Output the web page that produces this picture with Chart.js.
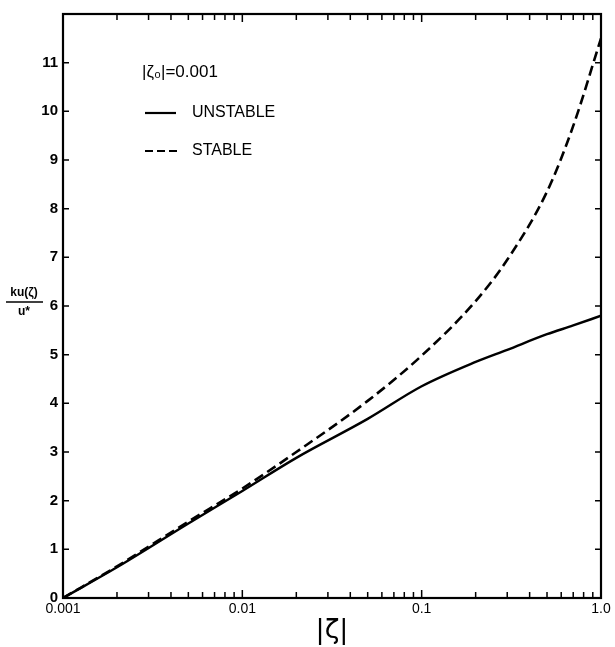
<!DOCTYPE html>
<html lang="en">
<head>
<meta charset="UTF-8">
<title>ku/u* vs |zeta|</title>
<script src="https://cdn.jsdelivr.net/npm/chart.js"></script>
<style>
  body { margin: 0; background: #fff; }
  #wrap { width: 615px; height: 647px; position: relative; }
</style>
</head>
<body>
<div id="wrap"><canvas id="chart"></canvas></div>
<script>
const zeta = [0.001, 0.002, 0.005, 0.01, 0.02, 0.05, 0.1, 0.2, 0.3, 0.5, 0.7, 1.0];
// ku(zeta)/u* for each case
const unstable = [0, 0.63, 1.53, 2.2, 2.88, 3.68, 4.35, 4.85, 5.1, 5.42, 5.6, 5.8];
const stable   = [0, 0.65, 1.57, 2.25, 3.0, 4.05, 4.98, 6.1, 6.95, 8.35, 9.7, 11.5];

const xMajor = [0.001, 0.01, 0.1, 1.0];
const xLabels = ['0.001', '0.01', '0.1', '1.0'];
const yTicks = [0, 1, 2, 3, 4, 5, 6, 7, 8, 9, 10, 11];

// minor log ticks 2..9 in each decade
const xMinor = [];
xMajor.slice(0, -1).forEach(d => { for (let k = 2; k <= 9; k++) xMinor.push(d * k); });

const frame = {
  id: 'frame',
  afterDatasetsDraw(chart) {
    const { ctx, chartArea: a, scales: { x, y } } = chart;
    ctx.save();
    ctx.strokeStyle = '#000';
    ctx.lineWidth = 2.2;
    ctx.strokeRect(a.left, a.top, a.right - a.left, a.bottom - a.top);

    // inward ticks on all four sides
    ctx.lineWidth = 1.5;
    ctx.beginPath();
    xMajor.forEach(v => {
      const px = x.getPixelForValue(v);
      ctx.moveTo(px, a.bottom); ctx.lineTo(px, a.bottom - 8);
      ctx.moveTo(px, a.top); ctx.lineTo(px, a.top + 8);
    });
    xMinor.forEach(v => {
      const px = x.getPixelForValue(v);
      ctx.moveTo(px, a.bottom); ctx.lineTo(px, a.bottom - 6);
      ctx.moveTo(px, a.top); ctx.lineTo(px, a.top + 6);
    });
    yTicks.forEach(v => {
      const py = y.getPixelForValue(v);
      ctx.moveTo(a.left, py); ctx.lineTo(a.left + 6, py);
      ctx.moveTo(a.right, py); ctx.lineTo(a.right - 6, py);
    });
    ctx.stroke();

    // key / annotation
    ctx.fillStyle = '#000';
    ctx.textBaseline = 'middle';
    ctx.font = '17px "Liberation Sans", Arial, sans-serif';
    ctx.fillText('|ζ₀|=0.001', 142, 72);
    ctx.font = '16px "Liberation Sans", Arial, sans-serif';
    ctx.fillText('UNSTABLE', 192, 113);
    ctx.fillText('STABLE', 192, 151);
    ctx.lineWidth = 2.2;
    ctx.beginPath();
    ctx.moveTo(145, 113); ctx.lineTo(176, 113);
    ctx.stroke();
    ctx.setLineDash([8, 4]);
    ctx.beginPath();
    ctx.moveTo(145, 151); ctx.lineTo(178, 151);
    ctx.stroke();
    ctx.setLineDash([]);

    // y title as a fraction
    ctx.font = 'bold 12px "Liberation Sans", Arial, sans-serif';
    ctx.textAlign = 'center';
    ctx.fillText('ku(ζ)', 24, 293);
    ctx.lineWidth = 1.4;
    ctx.beginPath();
    ctx.moveTo(6, 302); ctx.lineTo(43, 302);
    ctx.stroke();
    ctx.fillText('u*', 24, 312);
    ctx.restore();
  }
};

new Chart(document.getElementById('chart'), {
  type: 'line',
  data: {
    datasets: [
      {
        label: 'UNSTABLE',
        data: zeta.map((z, i) => ({ x: z, y: unstable[i] })),
        borderColor: '#000',
        borderWidth: 2.4,
        pointRadius: 0,
        cubicInterpolationMode: 'monotone'
      },
      {
        label: 'STABLE',
        data: zeta.map((z, i) => ({ x: z, y: stable[i] })),
        borderColor: '#000',
        borderWidth: 2.6,
        borderDash: [10, 5],
        pointRadius: 0,
        cubicInterpolationMode: 'monotone'
      }
    ]
  },
  options: {
    responsive: true,
    maintainAspectRatio: false,
    animation: false,
    layout: { padding: { top: 12, right: 14, left: 0, bottom: 0 } },
    plugins: { legend: { display: false }, tooltip: { enabled: false } },
    scales: {
      x: {
        type: 'logarithmic',
        min: 0.001,
        max: 1,
        afterBuildTicks: s => { s.ticks = xMajor.map(v => ({ value: v })); },
        afterFit: s => { s.height = 49; },
        grid: { display: false, drawTicks: false },
        border: { display: false },
        ticks: {
          color: '#000',
          padding: 3,
          maxRotation: 0,
          font: { family: '"Liberation Sans", Arial, sans-serif', size: 14 },
          callback: (v) => xLabels[xMajor.indexOf(v)] ?? ''
        },
        title: {
          display: true,
          text: '|ζ|',
          color: '#000',
          padding: 0,
          font: { family: '"DejaVu Sans", sans-serif', size: 27 }
        }
      },
      y: {
        min: 0,
        max: 12,
        afterBuildTicks: s => { s.ticks = yTicks.map(v => ({ value: v })); },
        afterFit: s => { s.width = 63; },
        grid: { display: false, drawTicks: false },
        border: { display: false },
        ticks: {
          color: '#000',
          padding: 5,
          font: { family: '"Liberation Sans", Arial, sans-serif', size: 15, weight: 'bold' }
        }
      }
    }
  },
  plugins: [frame]
});
</script>
</body>
</html>
